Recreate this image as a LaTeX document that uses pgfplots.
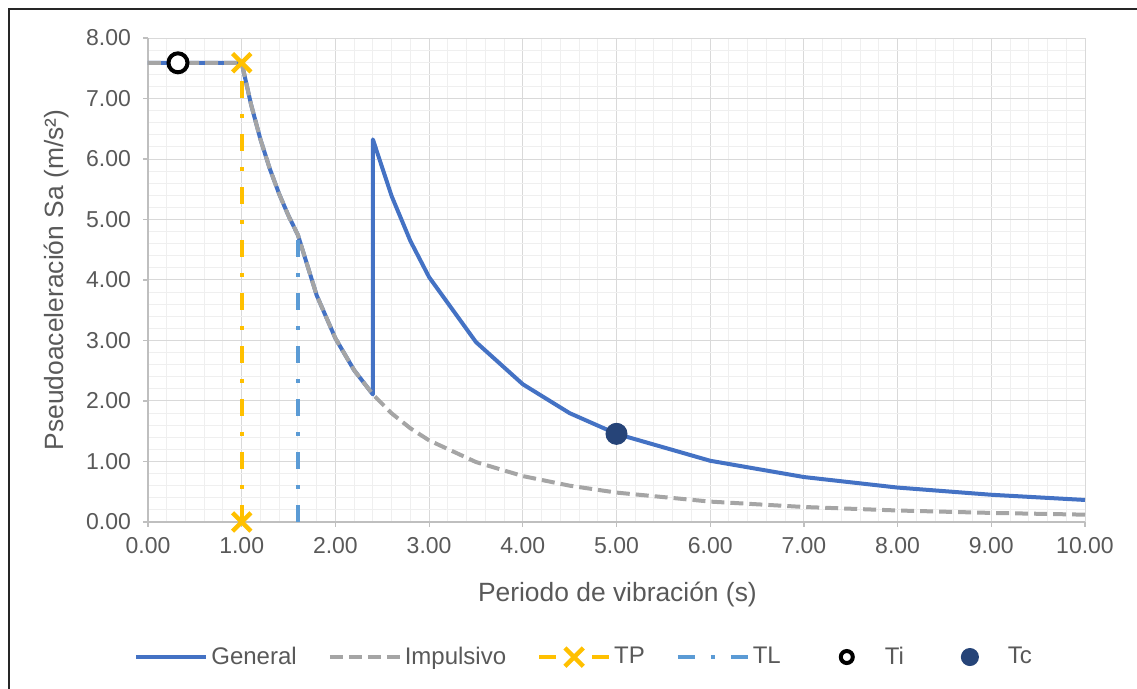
\documentclass[border=0pt]{standalone}
\usepackage{fontspec}
\setmainfont{Liberation Sans}
\usepackage{pgfplots}
\pgfplotsset{compat=1.18}

\definecolor{general}{HTML}{4472C4}
\definecolor{impulsivo}{HTML}{A5A5A5}
\definecolor{tpcol}{HTML}{FFC000}
\definecolor{tlcol}{HTML}{5B9BD5}
\definecolor{tccol}{HTML}{264478}
\definecolor{txt}{HTML}{595959}
\definecolor{gridmaj}{HTML}{D9D9D9}
\definecolor{gridmin}{HTML}{EFEFEF}
\definecolor{axisgray}{HTML}{BFBFBF}

\pgfplotsset{
  wide legend/.style={legend image code/.code={\draw[mark repeat=2,mark phase=2,##1] plot coordinates {(0pt,0pt) (17.5pt,0pt) (35pt,0pt)};}},
  mark legend/.style={legend image code/.code={\path[draw=none,fill=none] (0pt,-1pt) rectangle (35pt,1pt); \draw[##1,mark size=#1] plot coordinates {(17.5pt,0pt)};}},
}

\begin{document}
\begin{tikzpicture}
\useasboundingbox (0,0) rectangle (568.5pt,344.5pt);
\draw[line width=1pt, black!85] (4.65pt,-2pt) -- (4.65pt,339.85pt) -- (572pt,339.85pt);
\begin{axis}[
    at={(74pt,83.5pt)}, anchor=south west,
    width=468.5pt, height=242pt, scale only axis,
    xmin=0, xmax=10, ymin=0, ymax=8,
    xtick distance=1, ytick distance=1,
    minor x tick num=4, minor y tick num=4,
    grid=both,
    major grid style={draw=gridmaj, line width=0.5pt},
    minor grid style={draw=gridmin, line width=0.5pt},
    axis x line*=bottom, axis y line*=left,
    axis line style={draw=axisgray, line width=0.6pt, -},
    tick align=outside, major tick length=2.5pt, minor tick length=0pt,
    tick style={draw=axisgray, line width=0.6pt},
    /pgf/number format/fixed, /pgf/number format/fixed zerofill,
    /pgf/number format/precision=2, /pgf/number format/assume math mode=true,
    ticklabel style={font=\fontsize{11.5}{13}\selectfont, text=txt},
    xticklabel style={yshift=-1.5pt},
    yticklabel style={xshift=-2.5pt},
    xlabel={Periodo de vibración (s)},
    ylabel={Pseudoaceleración Sa (m/s²)},
    label style={font=\fontsize{13.2}{15}\selectfont, text=txt},
    xlabel style={at={(axis description cs:0.501,-0.1653)}, anchor=base},
    ylabel style={at={(axis description cs:-0.0907,0.5)}, anchor=base},
    clip=false,
    wide legend,
    legend columns=6,
    legend cell align=left,
    legend style={at={(axis description cs:0.466,-0.279)}, anchor=center,
        draw=none, fill=none, inner sep=0pt,
        font=\fontsize{12}{14}\selectfont, text=txt,
        nodes={inner sep=1.5pt},
        /tikz/every even column/.append style={column sep=14pt}},
]

% General
\addplot[general, line width=2pt, line join=round] coordinates {
    (0,7.59) (1.0,7.59) (1.1,6.900) (1.2,6.325) (1.3,5.838) (1.4,5.421)
    (1.5,5.060) (1.6,4.744) (1.8,3.748) (2.0,3.036) (2.2,2.509) (2.4,2.108)
    (2.4,6.324) (2.6,5.388) (2.8,4.646) (3.0,4.047) (3.5,2.974) (4.0,2.277)
    (4.5,1.799) (5.0,1.457) (6.0,1.012) (7.0,0.743) (8.0,0.569) (9.0,0.450)
    (10.0,0.364)
};
\addlegendentry{General}

% Impulsivo
\addplot[impulsivo, line width=2pt, line join=round,
    dash pattern=on 6.5pt off 3pt] coordinates {
    (0,7.59) (1.0,7.59) (1.1,6.900) (1.2,6.325) (1.3,5.838) (1.4,5.421)
    (1.5,5.060) (1.6,4.744) (1.8,3.748) (2.0,3.036) (2.2,2.509) (2.4,2.108)
    (2.6,1.796) (2.8,1.549) (3.0,1.349) (3.5,0.991) (4.0,0.759) (4.5,0.600)
    (5.0,0.486) (6.0,0.337) (7.0,0.248) (8.0,0.190) (9.0,0.150) (10.0,0.121)
};
\addlegendentry{Impulsivo}

% TP
\addplot[tpcol, line width=2pt,
    dash pattern=on 8.5pt off 8pt on 2pt off 8pt,
    mark=x, mark size=6.5pt,
    mark options={solid, line width=2.2pt}] coordinates {
    (1.0,0) (1.0,7.59)
};
\addlegendentry{TP}

% TL
\addplot[tlcol, line width=2pt,
    dash pattern=on 8.5pt off 8pt on 2pt off 8pt] coordinates {
    (1.6,0) (1.6,4.744)
};
\addlegendentry{TL}

% Ti
\addplot[only marks, mark=*, mark size=4.75pt,
    mark options={draw=black, fill=white, line width=2pt},
    mark legend=3pt] coordinates {(0.32,7.59)};
\addlegendentry{Ti}

% Tc
\addplot[only marks, mark=*, mark size=5.25pt,
    mark options={draw=tccol, fill=tccol, line width=0.5pt},
    mark legend=4.25pt] coordinates {(5.0,1.457)};
\addlegendentry{Tc}

\end{axis}
\end{tikzpicture}
\end{document}
